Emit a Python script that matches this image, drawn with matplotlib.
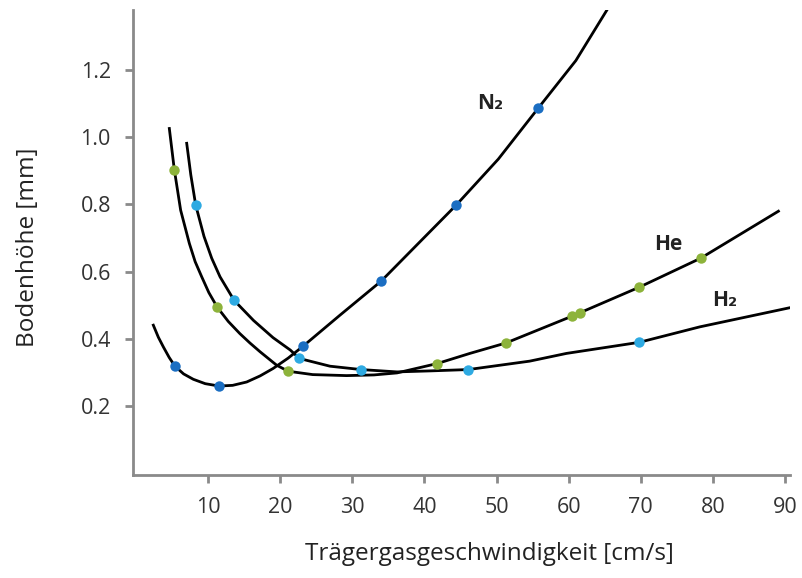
import matplotlib
matplotlib.use('Agg')
import matplotlib.pyplot as plt

plt.rcParams['font.family'] = ['Open Sans', 'DejaVu Sans']

# measured points (markers)
n2_x = [5.4, 11.5, 23.2, 34.0, 44.4, 55.8]
n2_y = [0.319, 0.260, 0.379, 0.572, 0.798, 1.087]
he_x = [5.3, 11.3, 21.1, 41.8, 51.3, 60.5, 61.6, 69.8, 78.3]
he_y = [0.904, 0.494, 0.304, 0.327, 0.388, 0.468, 0.477, 0.554, 0.640]
h2_x = [8.3, 13.6, 22.65, 31.2, 46.1, 69.8]
h2_y = [0.798, 0.515, 0.342, 0.309, 0.309, 0.390]

# curves
n2_cx = [2.4, 3.1, 3.8, 4.6, 5.4, 6.6, 7.95, 9.6, 11.5, 13.4, 15.35, 17.2, 19.0, 21.1, 23.2, 28.3, 34.0, 39.15, 44.4, 50.25, 55.8, 61.0, 65.3]
n2_cy = [0.441, 0.405, 0.376, 0.345, 0.319, 0.296, 0.280, 0.267, 0.260, 0.262, 0.272, 0.290, 0.312, 0.343, 0.379, 0.471, 0.572, 0.684, 0.798, 0.935, 1.087, 1.228, 1.378]
he_cx = [4.62, 5.31, 6.19, 7.4, 8.2, 9.11, 10.1, 11.28, 12.8, 14.4, 15.8, 17.2, 19.5, 21.1, 24.5, 29.2, 33.0, 36.2, 41.8, 46.3, 51.3, 60.5, 69.8, 78.3, 89.1]
he_cy = [1.026, 0.904, 0.783, 0.684, 0.630, 0.585, 0.538, 0.494, 0.452, 0.416, 0.388, 0.362, 0.322, 0.304, 0.294, 0.291, 0.293, 0.299, 0.327, 0.357, 0.388, 0.468, 0.554, 0.640, 0.780]
h2_cx = [7.03, 7.6, 8.28, 9.43, 10.5, 11.65, 13.6, 16.3, 19.0, 21.4, 22.65, 26.9, 31.2, 36.2, 40.8, 46.1, 54.6, 59.7, 69.8, 78.2, 90.7]
h2_cy = [0.982, 0.888, 0.798, 0.705, 0.640, 0.585, 0.515, 0.455, 0.404, 0.367, 0.342, 0.319, 0.309, 0.302, 0.305, 0.309, 0.334, 0.357, 0.390, 0.436, 0.493]

x_ticks = [10, 20, 30, 40, 50, 60, 70, 80, 90]
y_ticks = [0.2, 0.4, 0.6, 0.8, 1.0, 1.2]

c_n2 = '#1b6ec2'
c_he = '#8db33b'
c_h2 = '#2eaae2'

fig = plt.figure(figsize=(8.02, 5.78), dpi=100)
ax = fig.add_axes([0.166, 0.178, 0.819, 0.805])

for cx, cy in [(n2_cx, n2_cy), (he_cx, he_cy), (h2_cx, h2_cy)]:
    ax.plot(cx, cy, color='black', lw=2, solid_joinstyle='round', zorder=2)

ax.plot(n2_x, n2_y, 'o', color=c_n2, ms=7.5, mew=0, zorder=3)
ax.plot(he_x, he_y, 'o', color=c_he, ms=7.5, mew=0, zorder=3)
ax.plot(h2_x, h2_y, 'o', color=c_h2, ms=7.5, mew=0, zorder=3)

ax.text(49.1, 1.10, 'N₂', fontsize=15, fontweight='bold', color='#222222', ha='center', va='center')
ax.text(73.8, 0.68, 'He', fontsize=15, fontweight='bold', color='#222222', ha='center', va='center')
ax.text(81.7, 0.515, 'H₂', fontsize=15, fontweight='bold', color='#222222', ha='center', va='center')

ax.set_xlim(-0.4, 90.7)
ax.set_ylim(-0.005, 1.379)
ax.set_xticks(x_ticks)
ax.set_yticks(y_ticks)
ax.set_yticklabels(['%.1f' % v for v in y_ticks])

for s in ['top', 'right']:
    ax.spines[s].set_visible(False)
for s in ['left', 'bottom']:
    ax.spines[s].set_color('#8a8a8a')
    ax.spines[s].set_linewidth(2)
ax.tick_params(color='#8a8a8a', width=2, length=6, labelsize=15.5, labelcolor='#333333', pad=10)

ax.set_xlabel('Trägergasgeschwindigkeit [cm/s]', fontsize=17.5, color='#222222')
ax.set_ylabel('Bodenhöhe [mm]', fontsize=17.5, color='#222222')
ax.xaxis.set_label_coords(0.542, -0.143)
ax.yaxis.set_label_coords(-0.142, 0.49)

fig.savefig('out.png', dpi=100)
plt.close(fig)
